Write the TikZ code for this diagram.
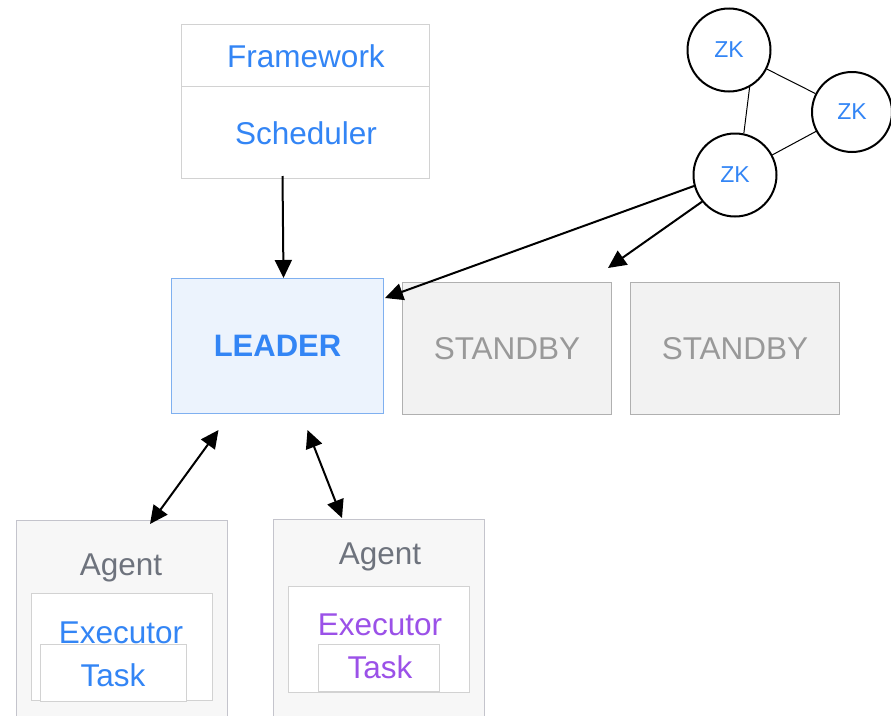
\documentclass[tikz,border=0pt]{standalone}
\usepackage{fontspec}
\setmainfont{Liberation Sans}
\usetikzlibrary{arrows.meta,calc}
\definecolor{txtblue}{HTML}{3385F5}
\definecolor{txtpurple}{HTML}{9B51E8}
\definecolor{txtgray}{HTML}{6E737D}
\definecolor{sbtxt}{HTML}{999999}
\definecolor{boxline}{HTML}{D2D2D2}
\definecolor{leadfill}{HTML}{ECF3FD}
\definecolor{leadline}{HTML}{7FB0F0}
\definecolor{sbfill}{HTML}{F2F2F2}
\definecolor{sbline}{HTML}{B0B0B0}
\definecolor{agfill}{HTML}{F7F7F7}
\definecolor{agline}{HTML}{C4C4CC}
\tikzset{
  big/.style={font=\fontsize{31.5}{36}\selectfont},
  plainbox/.style={draw=boxline, line width=1pt, fill=white, inner sep=0pt},
  leaderbox/.style={draw=leadline, line width=1pt, fill=leadfill, minimum width=212pt, minimum height=135pt, inner sep=0pt},
  sbbox/.style={draw=sbline, line width=1pt, fill=sbfill, minimum width=209pt, minimum height=132pt, inner sep=0pt},
  agbox/.style={draw=agline, line width=1pt, fill=agfill, inner sep=0pt},
  zknode/.style={draw, circle, line width=2pt, minimum size=83pt, inner sep=0pt, text=txtblue, font=\fontsize{23}{27}\selectfont},
  arr/.style={line width=2pt, -{Triangle[length=18pt,width=17pt]}},
  darr/.style={line width=2pt, {Triangle[length=18pt,width=17pt]}-{Triangle[length=18pt,width=17pt]}},
  thin link/.style={line width=1pt}
}
\begin{document}
\begin{tikzpicture}[x=1pt,y=-1pt]
\useasboundingbox (0,0) rectangle (891,715);
\clip (0,0) rectangle (891,715);

% Framework / Scheduler
\node[plainbox, minimum width=248pt, minimum height=154pt, anchor=north west] (sched) at (181,24) {};
\draw[boxline, line width=1pt] (181,86) -- (429,86);
\node[big, text=txtblue] (fwtxt) at (306,56) {Framework};
\node[big, text=txtblue] (schtxt) at (306,133) {Scheduler};

% Leader and standbys
\node[leaderbox, anchor=north west] (leader) at (171,278) {};
\node[big, text=txtblue, font=\fontsize{31}{36}\selectfont\bfseries] at (leader.center) {LEADER};
\node[sbbox, anchor=north west] (sb1) at (402,282) {};
\node[big, text=sbtxt] at (sb1.center) {STANDBY};
\node[sbbox, anchor=north west] (sb2) at (630,282) {};
\node[big, text=sbtxt] at (sb2.center) {STANDBY};

% ZK
\node[zknode] (zk1) at (729,50) {ZK};
\node[zknode, minimum size=80pt] (zk2) at (852,112) {ZK};
\node[zknode] (zk3) at (735,175) {ZK};
\draw[thin link] (zk1) -- (zk2);
\draw[thin link] (zk2) -- (zk3);
\draw[thin link] (zk1.-61) -- (zk3.78);

% Agents
\node[agbox, minimum width=211pt, minimum height=210pt, anchor=north west] (ag1) at (16,520) {};
\node[big, text=txtgray] at (121,568) {Agent};
\node[plainbox, minimum width=181pt, minimum height=107pt, anchor=north west] (ex1) at (31,593) {};
\node[big, text=txtblue] at (121,633) {Executor};
\node[plainbox, minimum width=146pt, minimum height=57pt, anchor=north west] (task1) at (40,644) {};
\node[big, text=txtblue] at (113,675) {Task};

\node[agbox, minimum width=211pt, minimum height=210pt, anchor=north west] (ag2) at (273,519) {};
\node[big, text=txtgray] at (380,557) {Agent};
\node[plainbox, minimum width=181pt, minimum height=106pt, anchor=north west] (ex2) at (288,586) {};
\node[big, text=txtpurple] at (380,625) {Executor};
\node[plainbox, minimum width=121pt, minimum height=47pt, anchor=north west] (task2) at (318,644) {};
\node[big, text=txtpurple] at (380,667) {Task};

% Connectors
\draw[arr] ($(sched.south)+(-23,-3)$) -- ($(leader.north)+(6,0)$);
\draw[arr] (zk3.195) -- ($(leader.north east)+(1,20)$);
\draw[arr] (zk3.219) -- ($(sb1.north east)+(-4,-14)$);
\draw[darr] ($(leader.south)+(-59,16)$) -- ($(ag1.north)+(28,4)$);
\draw[darr] ($(leader.south)+(30,16)$) -- ($(ag2.north)+(-37,-1)$);
\end{tikzpicture}
\end{document}
